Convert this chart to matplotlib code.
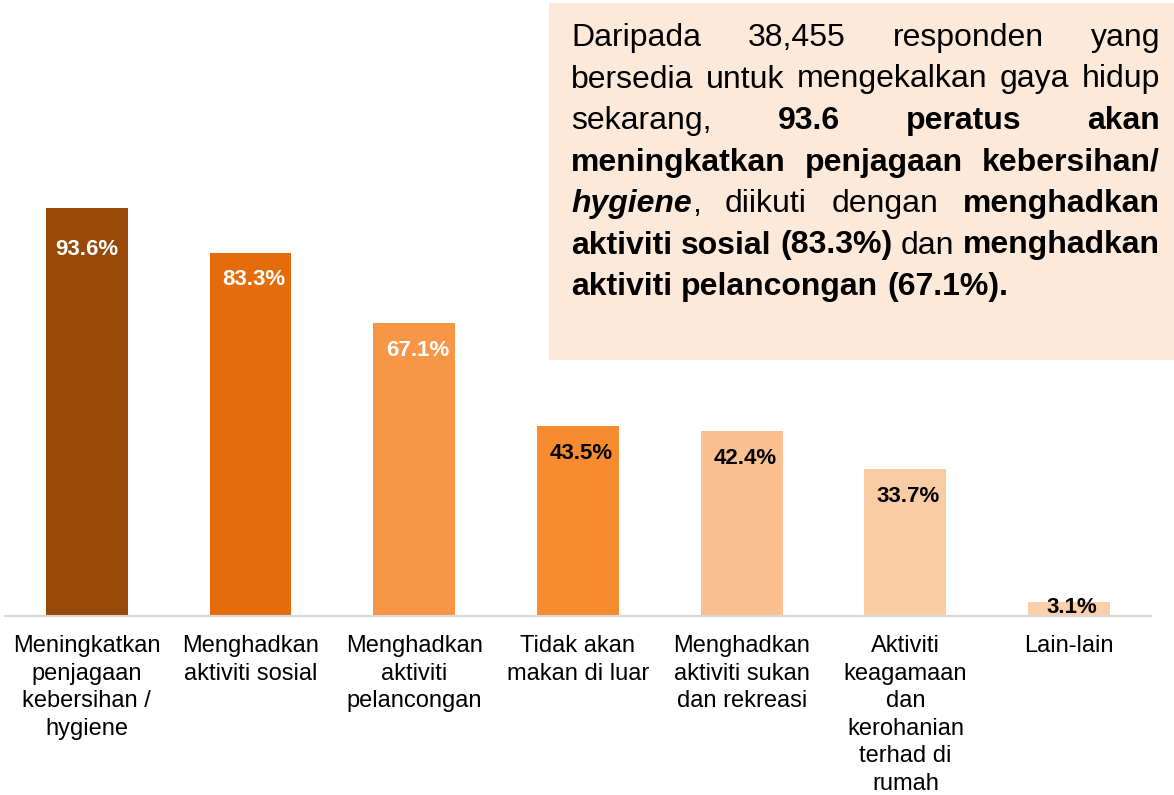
import matplotlib.pyplot as plt
from matplotlib.patches import Rectangle
from matplotlib.transforms import IdentityTransform

plt.rcParams['font.family'] = ['Liberation Sans', 'DejaVu Sans']

categories = ["Meningkatkan\npenjagaan\nkebersihan /\nhygiene",
              "Menghadkan\naktiviti sosial",
              "Menghadkan\naktiviti\npelancongan",
              "Tidak akan\nmakan di luar",
              "Menghadkan\naktiviti sukan\ndan rekreasi",
              "Aktiviti\nkeagamaan\ndan\nkerohanian\nterhad di\nrumah",
              "Lain-lain"]
values = [93.6, 83.3, 67.1, 43.5, 42.4, 33.7, 3.1]
bar_colors = ["#984807", "#E46C0A", "#F79646", "#F68B30",
              "#FAC090", "#FACCA4", "#FBCFAA"]
label_colors = ["white", "white", "white", "black", "black", "black", "black"]

# paragraph in the box: each line is a list of words, each word a list of (text, weight, style)
N, B = "normal", "bold"
box_lines = [
    [[("Daripada", N, N)], [("38,455", N, N)], [("responden", N, N)], [("yang", N, N)]],
    [[("bersedia", N, N)], [("untuk", N, N)], [("mengekalkan", N, N)], [("gaya", N, N)], [("hidup", N, N)]],
    [[("sekarang,", N, N)], [("93.6", B, N)], [("peratus", B, N)], [("akan", B, N)]],
    [[("meningkatkan", B, N)], [("penjagaan", B, N)], [("kebersihan/", B, N)]],
    [[("hygiene", B, "italic"), (",", N, N)], [("diikuti", N, N)], [("dengan", N, N)], [("menghadkan", B, N)]],
    [[("aktiviti", B, N)], [("sosial", B, N)], [("(83.3%)", B, N)], [("dan", N, N)], [("menghadkan", B, N)]],
    [[("aktiviti", B, N)], [("pelancongan", B, N)], [("(67.1%).", B, N)]],
]

W, H = 1174, 795
fig = plt.figure(figsize=(W / 100, H / 100), dpi=100)
ax = fig.add_axes([5 / W, 179 / H, 1146 / W, 436 / H])

x = range(len(values))
ax.bar(x, values, width=0.5, color=bar_colors, zorder=2)
ax.set_xlim(-0.5, len(values) - 0.5)
ax.set_ylim(0, 100)

# value labels inside bars, offset in pixels from bar top
for i, v in enumerate(values):
    off = -42 if i == 0 else (-5 if v < 10 else -27)
    dx = 0 if i == 0 else 3
    ax.annotate(f"{v}%", (i, v), xytext=(dx, off), textcoords="offset pixels",
                ha="center", va="center", fontsize=16, fontweight="bold",
                color=label_colors[i])

ax.set_xticks(list(x))
ax.set_xticklabels(categories, fontsize=17, linespacing=1.32)
ax.set_yticks([])
ax.tick_params(axis="x", length=0, pad=14)
for s in ["top", "right", "left"]:
    ax.spines[s].set_visible(False)
ax.spines["bottom"].set_color("#D9D9D9")
ax.spines["bottom"].set_linewidth(1.5)

# text box
fig.patches.append(Rectangle((549 / W, (H - 360) / H), 625 / W, 357 / H,
                             transform=fig.transFigure, facecolor="#FDE9D9",
                             edgecolor="none", zorder=0))

FS = 23
left, right = 571, 1160
baselines = [46, 87.5, 129, 170.5, 212, 253.5, 295]
renderer = fig.canvas.get_renderer()
ident = IdentityTransform()

for li, (line, yb) in enumerate(zip(box_lines, baselines)):
    words = []
    for word in line:
        parts = []
        for txt, wt, st in word:
            t = fig.text(0, H - yb, txt, fontsize=FS, fontweight=wt, fontstyle=st,
                         transform=ident, va="baseline", ha="left", color="black")
            w = t.get_window_extent(renderer).width
            parts.append((t, w))
        words.append(parts)
    total = sum(w for parts in words for _, w in parts)
    if li == len(box_lines) - 1:
        gap = 0.278 * FS * 100 / 72
    else:
        gap = (right - left - total) / (len(words) - 1)
    cx = left
    for parts in words:
        for t, w in parts:
            t.set_x(cx)
            cx += w
        cx += gap

fig.savefig("out.png", dpi=100)
